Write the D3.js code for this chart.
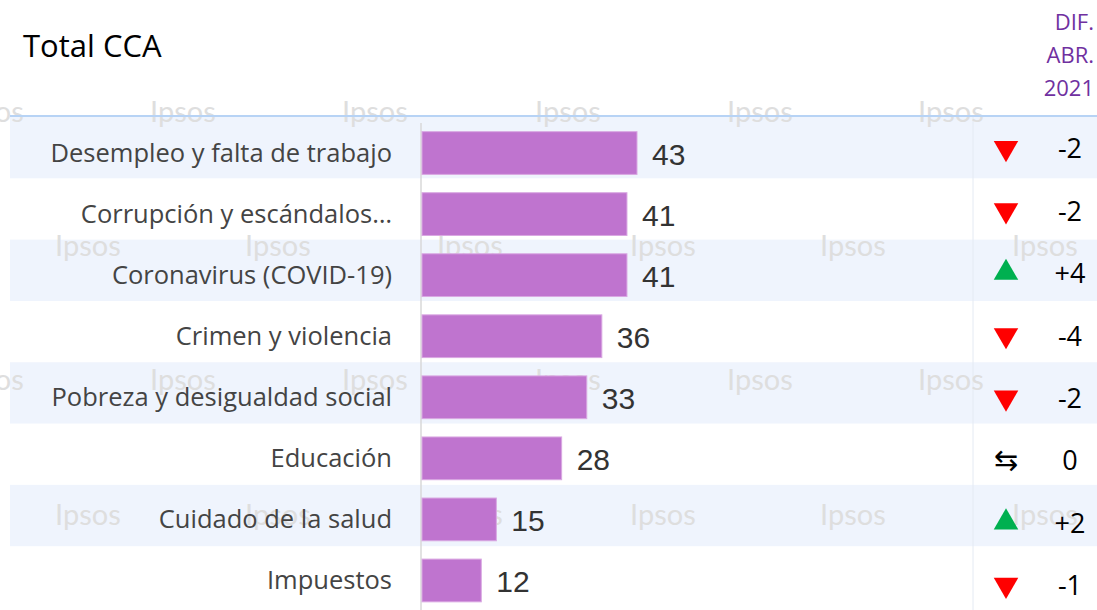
<!DOCTYPE html>
<html>
<head>
<meta charset="utf-8">
<script src="https://cdn.jsdelivr.net/npm/d3@7"></script>
<style>
  body { margin: 0; background: #fff; }
  svg { display: block; font-family: "Open Sans", "Noto Sans", sans-serif; }
</style>
</head>
<body>
<script>
var width = 1097;
var height = 610;

var categories = [
    "Desempleo y falta de trabajo",
    "Corrupción y escándalos…",
    "Coronavirus (COVID-19)",
    "Crimen y violencia",
    "Pobreza y desigualdad social",
    "Educación",
    "Cuidado de la salud",
    "Impuestos"
];
var values = [43, 41, 41, 36, 33, 28, 15, 12];
var diffs = ["-2", "-2", "+4", "-4", "-2", "0", "+2", "-1"];
var trends = ["down", "down", "up", "down", "down", "same", "up", "down"];
var headerLines = ["DIF.", "ABR.", "2021"];

var svg = d3.select("body").append("svg")
    .attr("width", width)
    .attr("height", height);

var x = d3.scaleLinear()
    .domain([0, 43])
    .range([421, 637]);

// background rows
var rowY = d3.scaleBand()
    .domain(categories)
    .range([117, 607.5]);

// bars
var barY = d3.scaleBand()
    .domain(categories)
    .range([122.5, 611])
    .paddingInner(0.3)
    .paddingOuter(0.15);

// right-hand diff column
var diffY = d3.scaleBand()
    .domain(categories)
    .range([116.8, 616]);

// striped rows
svg.selectAll(".band")
    .data(categories.filter(function (d, i) { return i % 2 === 0; }))
    .enter()
    .append("rect")
    .attr("x", 10)
    .attr("y", function (d) { return rowY(d); })
    .attr("width", width - 10)
    .attr("height", rowY.bandwidth())
    .style("fill", "#eff4fd");

// faint column separator
svg.append("line")
    .attr("x1", 973).attr("x2", 973)
    .attr("y1", 117).attr("y2", height)
    .style("stroke", "#e4eaf3")
    .style("stroke-width", 1);

// watermark
var wmRows = [
    { y: 122, xs: [-42, 150, 342, 535, 727, 918] },
    { y: 256, xs: [55, 245, 437, 630, 820, 1012] },
    { y: 390, xs: [-42, 150, 342, 535, 727, 918] },
    { y: 525, xs: [55, 245, 437, 630, 820, 1012] }
];
wmRows.forEach(function (r) {
    svg.selectAll(null)
        .data(r.xs)
        .enter()
        .append("text")
        .attr("x", function (d) { return d; })
        .attr("y", r.y)
        .text("Ipsos")
        .style("font-family", "Lato, 'Open Sans', sans-serif")
        .style("font-size", "29px")
        .style("fill", "#dedede");
});

// header line
svg.append("line")
    .attr("x1", 10).attr("x2", width)
    .attr("y1", 116).attr("y2", 116)
    .style("stroke", "#b7d3f5")
    .style("stroke-width", 2);

// axis line
svg.append("line")
    .attr("x1", 421).attr("x2", 421)
    .attr("y1", 123).attr("y2", height)
    .style("stroke", "#d9d9d9")
    .style("stroke-width", 1.5);

// bars
svg.selectAll(".bar")
    .data(values)
    .enter()
    .append("rect")
    .attr("x", x(0) + 1)
    .attr("y", function (d, i) { return barY(categories[i]); })
    .attr("width", function (d) { return x(d) - x(0) - 1; })
    .attr("height", barY.bandwidth())
    .style("fill", "#bf74cf")
    .style("stroke", "#d9a8e2")
    .style("stroke-width", 1);

// value labels
svg.selectAll(".val")
    .data(values)
    .enter()
    .append("text")
    .attr("x", function (d) { return x(d) + 15; })
    .attr("y", function (d, i) { return barY(categories[i]) + barY.bandwidth() / 2 + 12; })
    .text(function (d) { return d; })
    .style("font-family", "'Liberation Sans', Arial, sans-serif")
    .style("font-size", "30px")
    .style("fill", "#333");

// category labels
svg.selectAll(".cat")
    .data(categories)
    .enter()
    .append("text")
    .attr("x", 392)
    .attr("y", function (d) { return barY(d) + barY.bandwidth() / 2; })
    .attr("dy", "0.35em")
    .attr("text-anchor", "end")
    .text(function (d) { return d; })
    .style("font-size", "25.5px")
    .style("fill", "#444");

// trend markers
var tri = d3.symbol().type(d3.symbolTriangle).size(260);
trends.forEach(function (t, i) {
    var cy = diffY(categories[i]) + diffY.bandwidth() / 2;
    if (t === "same") {
        svg.append("text")
            .attr("x", 1006)
            .attr("y", cy)
            .attr("dy", "0.35em")
            .attr("text-anchor", "middle")
            .text("⇆")
            .style("font-family", "'DejaVu Sans', sans-serif")
            .style("font-size", "29px")
            .style("fill", "#000");
    } else {
        svg.append("path")
            .attr("d", tri)
            .attr("transform", "translate(1006," + cy + ")" + (t === "down" ? " rotate(180)" : ""))
            .style("fill", t === "down" ? "#ff0000" : "#00b050");
    }
});

// diff values
svg.selectAll(".diff")
    .data(diffs)
    .enter()
    .append("text")
    .attr("x", 1070)
    .attr("y", function (d, i) { return diffY(categories[i]) + diffY.bandwidth() / 2 + 1; })
    .attr("dy", "0.35em")
    .attr("text-anchor", "middle")
    .text(function (d) { return d; })
    .style("font-size", "27px")
    .style("fill", "#000");

// header
svg.selectAll(".hdr")
    .data(headerLines)
    .enter()
    .append("text")
    .attr("x", 1094)
    .attr("y", function (d, i) { return 30 + i * 33; })
    .attr("text-anchor", "end")
    .text(function (d) { return d; })
    .style("font-size", "22px")
    .style("fill", "#7030a0");

// title
svg.append("text")
    .attr("x", 23)
    .attr("y", 57)
    .text("Total CCA")
    .style("font-size", "31px")
    .style("fill", "#000");
</script>
</body>
</html>
